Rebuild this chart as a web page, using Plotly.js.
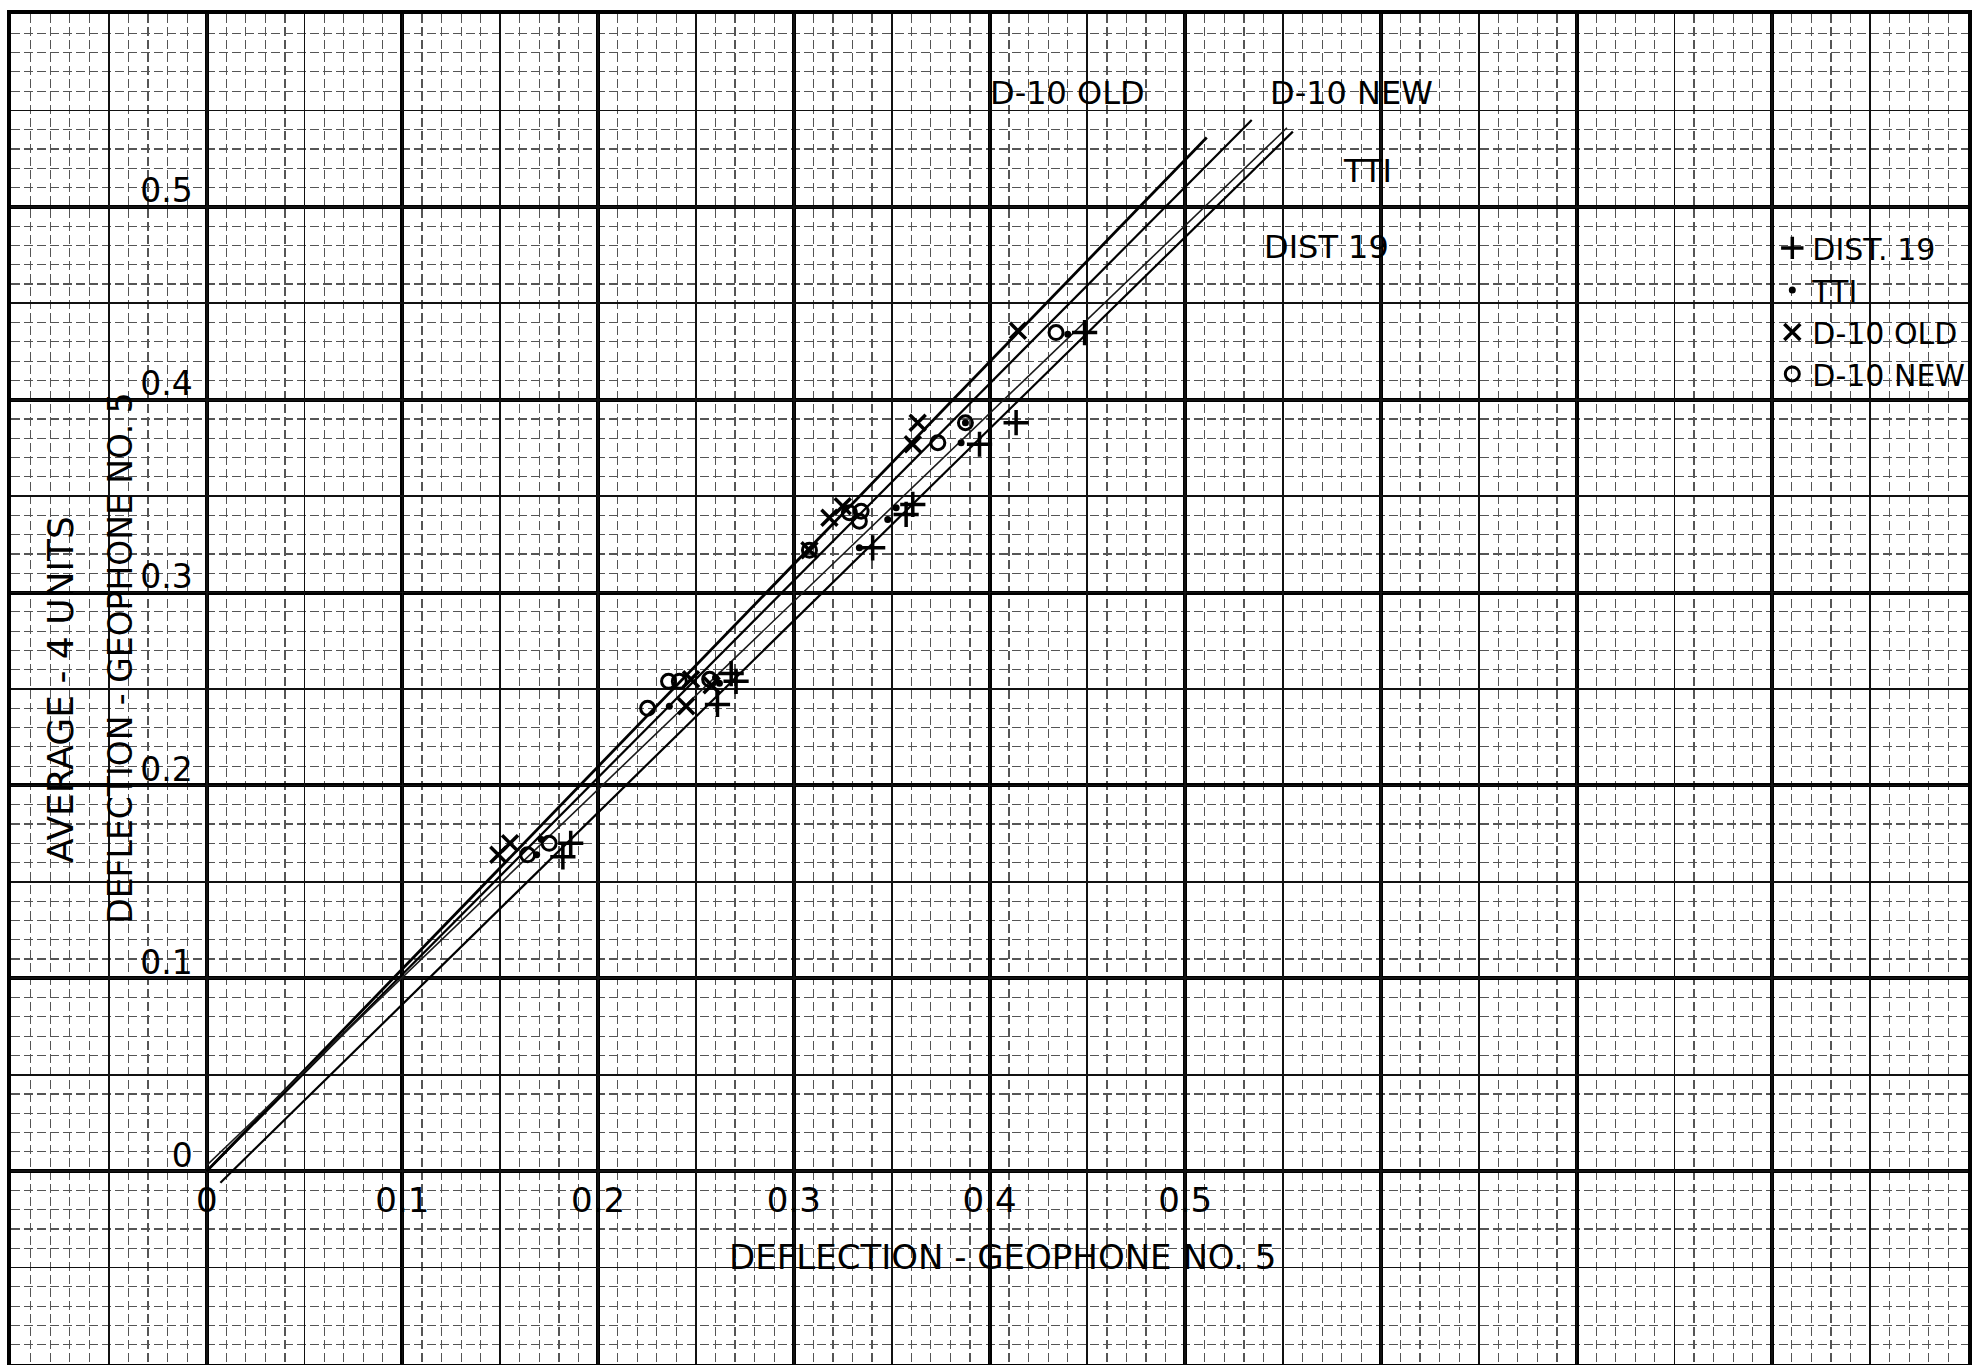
<!DOCTYPE html>
<html>
<head>
<meta charset="utf-8">
<script src="https://cdn.plot.ly/plotly-3.0.1.min.js"></script>
<style>
html,body{margin:0;padding:0;background:#fff;}
#chart{width:1974px;height:1365px;}
</style>
</head>
<body>
<div id="chart"></div>
<script>
// ---- tick labels ----
const xTickVals = [0, 0.1, 0.2, 0.3, 0.4, 0.5];
const xTickText = ["0", "0.1", "0.2", "0.3", "0.4", "0.5"];
const yTickVals = [0, 0.1, 0.2, 0.3, 0.4, 0.5];
const yTickText = ["0", "0.1", "0.2", "0.3", "0.4", "0.5"];

// ---- series (deflection geophone no.5 vs average of 4 units) ----
const dist19X = [0.186, 0.182, 0.261, 0.2705, 0.268, 0.3403, 0.3574, 0.3608, 0.3949, 0.4136, 0.4486];
const dist19Y = [0.170, 0.163, 0.242, 0.254, 0.258, 0.3232, 0.3405, 0.3457, 0.3769, 0.3881, 0.4348];

const ttiX = [0.1686, 0.171, 0.2364, 0.260, 0.262, 0.3335, 0.348, 0.3523, 0.3855, 0.3877, 0.440];
const ttiY = [0.164, 0.172, 0.241, 0.256, 0.253, 0.3232, 0.3379, 0.344, 0.3777, 0.3881, 0.434];

const oldX = [0.149, 0.155, 0.2475, 0.245, 0.258, 0.308, 0.3182, 0.325, 0.3633, 0.3608, 0.4145];
const oldY = [0.164, 0.170, 0.255, 0.241, 0.252, 0.322, 0.3388, 0.3448, 0.3881, 0.3769, 0.4357];

const newX = [0.164, 0.175, 0.236, 0.2415, 0.2253, 0.257, 0.308, 0.3284, 0.3344, 0.3335, 0.3736, 0.3877, 0.434];
const newY = [0.164, 0.170, 0.254, 0.254, 0.240, 0.255, 0.322, 0.3414, 0.3422, 0.337, 0.3777, 0.3881, 0.4348];

// ---- fitted lines (end points) ----
const lineOldX = [0, 0.511];
const lineOldY = [0, 0.536];
const lineNewX = [0, 0.534];
const lineNewY = [0, 0.545];
const lineTtiX = [0, 0.552];
const lineTtiY = [0.003, 0.541];
const lineDistX = [0.007, 0.555];
const lineDistY = [-0.006, 0.539];

const seriesNames = ["DIST. 19", "TTI", "D-10 OLD", "D-10 NEW"];
const lineLabels = ["D-10 OLD", "D-10 NEW", "TTI", "DIST 19"];
const xTitle = "DEFLECTION - GEOPHONE NO. 5";
const yTitle1 = "AVERAGE - 4 UNITS";
const yTitle2 = "DEFLECTION - GEOPHONE NO. 5";

const FONT = "DejaVu Sans, Liberation Sans, sans-serif";

function lineTrace(x, y, w, color) {
  return {x: x, y: y, mode: 'lines', type: 'scatter', showlegend: false, hoverinfo: 'skip',
          line: {color: color, width: w}};
}

const traces = [
  lineTrace(lineOldX, lineOldY, 2.8, '#000'),
  lineTrace(lineNewX, lineNewY, 2.2, '#000'),
  lineTrace(lineTtiX, lineTtiY, 1.6, '#1a1a1a'),
  lineTrace(lineDistX, lineDistY, 2.2, '#000'),
  {x: dist19X, y: dist19Y, name: seriesNames[0], type: 'scatter', mode: 'markers',
   marker: {symbol: 'cross-thin-open', size: 18, color: '#000', line: {color: '#000', width: 3.5}}},
  {x: ttiX, y: ttiY, name: seriesNames[1], type: 'scatter', mode: 'markers',
   marker: {symbol: 'circle', size: 7, color: '#000', line: {width: 0}}},
  {x: oldX, y: oldY, name: seriesNames[2], type: 'scatter', mode: 'markers',
   marker: {symbol: 'x-thin-open', size: 16, color: '#000', line: {color: '#000', width: 3.5}}},
  {x: newX, y: newY, name: seriesNames[3], type: 'scatter', mode: 'markers',
   marker: {symbol: 'circle-open', size: 14, color: '#000', line: {color: '#000', width: 3}}},
  // helper traces so the overlay grid / label axes exist
  {x: [], y: [], xaxis: 'x2', yaxis: 'y2', type: 'scatter', mode: 'markers', showlegend: false, hoverinfo: 'skip'},
  {x: [], y: [], xaxis: 'x3', yaxis: 'y3', type: 'scatter', mode: 'markers', showlegend: false, hoverinfo: 'skip'}
];

const XR = [-0.1, 0.9];
const YR = [-0.1, 0.6];

const minorGrid = {dtick: 0.01, tick0: 0, showgrid: true, gridcolor: '#555555', gridwidth: 1.2, griddash: '9px,4px', ticks: ''};

const layout = {
  width: 1974, height: 1365,
  margin: {l: 11, r: 6, t: 14, b: 1, autoexpand: false},
  paper_bgcolor: '#ffffff', plot_bgcolor: '#ffffff',
  font: {family: FONT, color: '#000', size: 32},
  showlegend: true,
  legend: {x: 0.9, xanchor: 'left', y: 0.846, yanchor: 'top', bgcolor: 'rgba(0,0,0,0)',
           borderwidth: 0, font: {family: FONT, size: 30, color: '#000'}, itemwidth: 30, tracegroupgap: 0},
  xaxis: {range: XR, dtick: 0.1, tick0: 0, showgrid: true, gridcolor: '#000', gridwidth: 4,
          showticklabels: false, ticks: '', zeroline: false, showline: true, mirror: 'all',
          linecolor: '#000', linewidth: 4, minor: minorGrid, fixedrange: true},
  yaxis: {range: YR, dtick: 0.1, tick0: 0, showgrid: true, gridcolor: '#000', gridwidth: 4,
          showticklabels: false, ticks: '', zeroline: false, showline: true, mirror: 'all',
          linecolor: '#000', linewidth: 4, minor: minorGrid, fixedrange: true},
  xaxis2: {overlaying: 'x', anchor: 'y2', range: XR, dtick: 0.05, tick0: 0, showgrid: true, gridcolor: '#111',
           gridwidth: 1.8, showticklabels: false, ticks: '', zeroline: false, showline: false},
  yaxis2: {overlaying: 'y', anchor: 'x2', range: YR, dtick: 0.05, tick0: 0, showgrid: true, gridcolor: '#111',
           gridwidth: 1.8, showticklabels: false, ticks: '', zeroline: false, showline: false},
  xaxis3: {overlaying: 'x', anchor: 'free', position: 0.142857, range: XR, tickmode: 'array',
           tickvals: xTickVals, ticktext: xTickText, showgrid: false, zeroline: false, ticks: '',
           showline: false, side: 'bottom', tickfont: {family: FONT, size: 34, color: '#000'}, ticklabelstandoff: 6},
  yaxis3: {overlaying: 'y', anchor: 'free', position: 0.1, range: YR, tickmode: 'array',
           tickvals: yTickVals, ticktext: yTickText, showgrid: false, zeroline: false, ticks: '',
           showline: false, side: 'left', tickfont: {family: FONT, size: 33, color: '#000'},
           ticklabelstandoff: 14, ticklabelshift: -16},
  annotations: [
    {text: lineLabels[0], x: 0.4396, y: 0.5588, xref: 'x', yref: 'y', showarrow: false, font: {family: FONT, size: 32, color: '#000'}},
    {text: lineLabels[1], x: 0.5852, y: 0.5588, xref: 'x', yref: 'y', showarrow: false, font: {family: FONT, size: 32, color: '#000'}},
    {text: lineLabels[2], x: 0.5929, y: 0.5186, xref: 'x', yref: 'y', showarrow: false, font: {family: FONT, size: 32, color: '#000'}},
    {text: lineLabels[3], x: 0.572, y: 0.4794, xref: 'x', yref: 'y', showarrow: false, font: {family: FONT, size: 32, color: '#000'}},
    {text: xTitle, x: 0.4066, y: -0.0445, xref: 'x', yref: 'y', showarrow: false, font: {family: FONT, size: 34, color: '#000'}},
    {text: yTitle1, x: -0.075, y: 0.25, xref: 'x', yref: 'y', showarrow: false, textangle: -90, font: {family: FONT, size: 36, color: '#000'}},
    {text: yTitle2, x: -0.044, y: 0.266, xref: 'x', yref: 'y', showarrow: false, textangle: -90, font: {family: FONT, size: 33, color: '#000'}}
  ]
};

Plotly.newPlot('chart', traces, layout, {displayModeBar: false, staticPlot: true});
</script>
</body>
</html>
